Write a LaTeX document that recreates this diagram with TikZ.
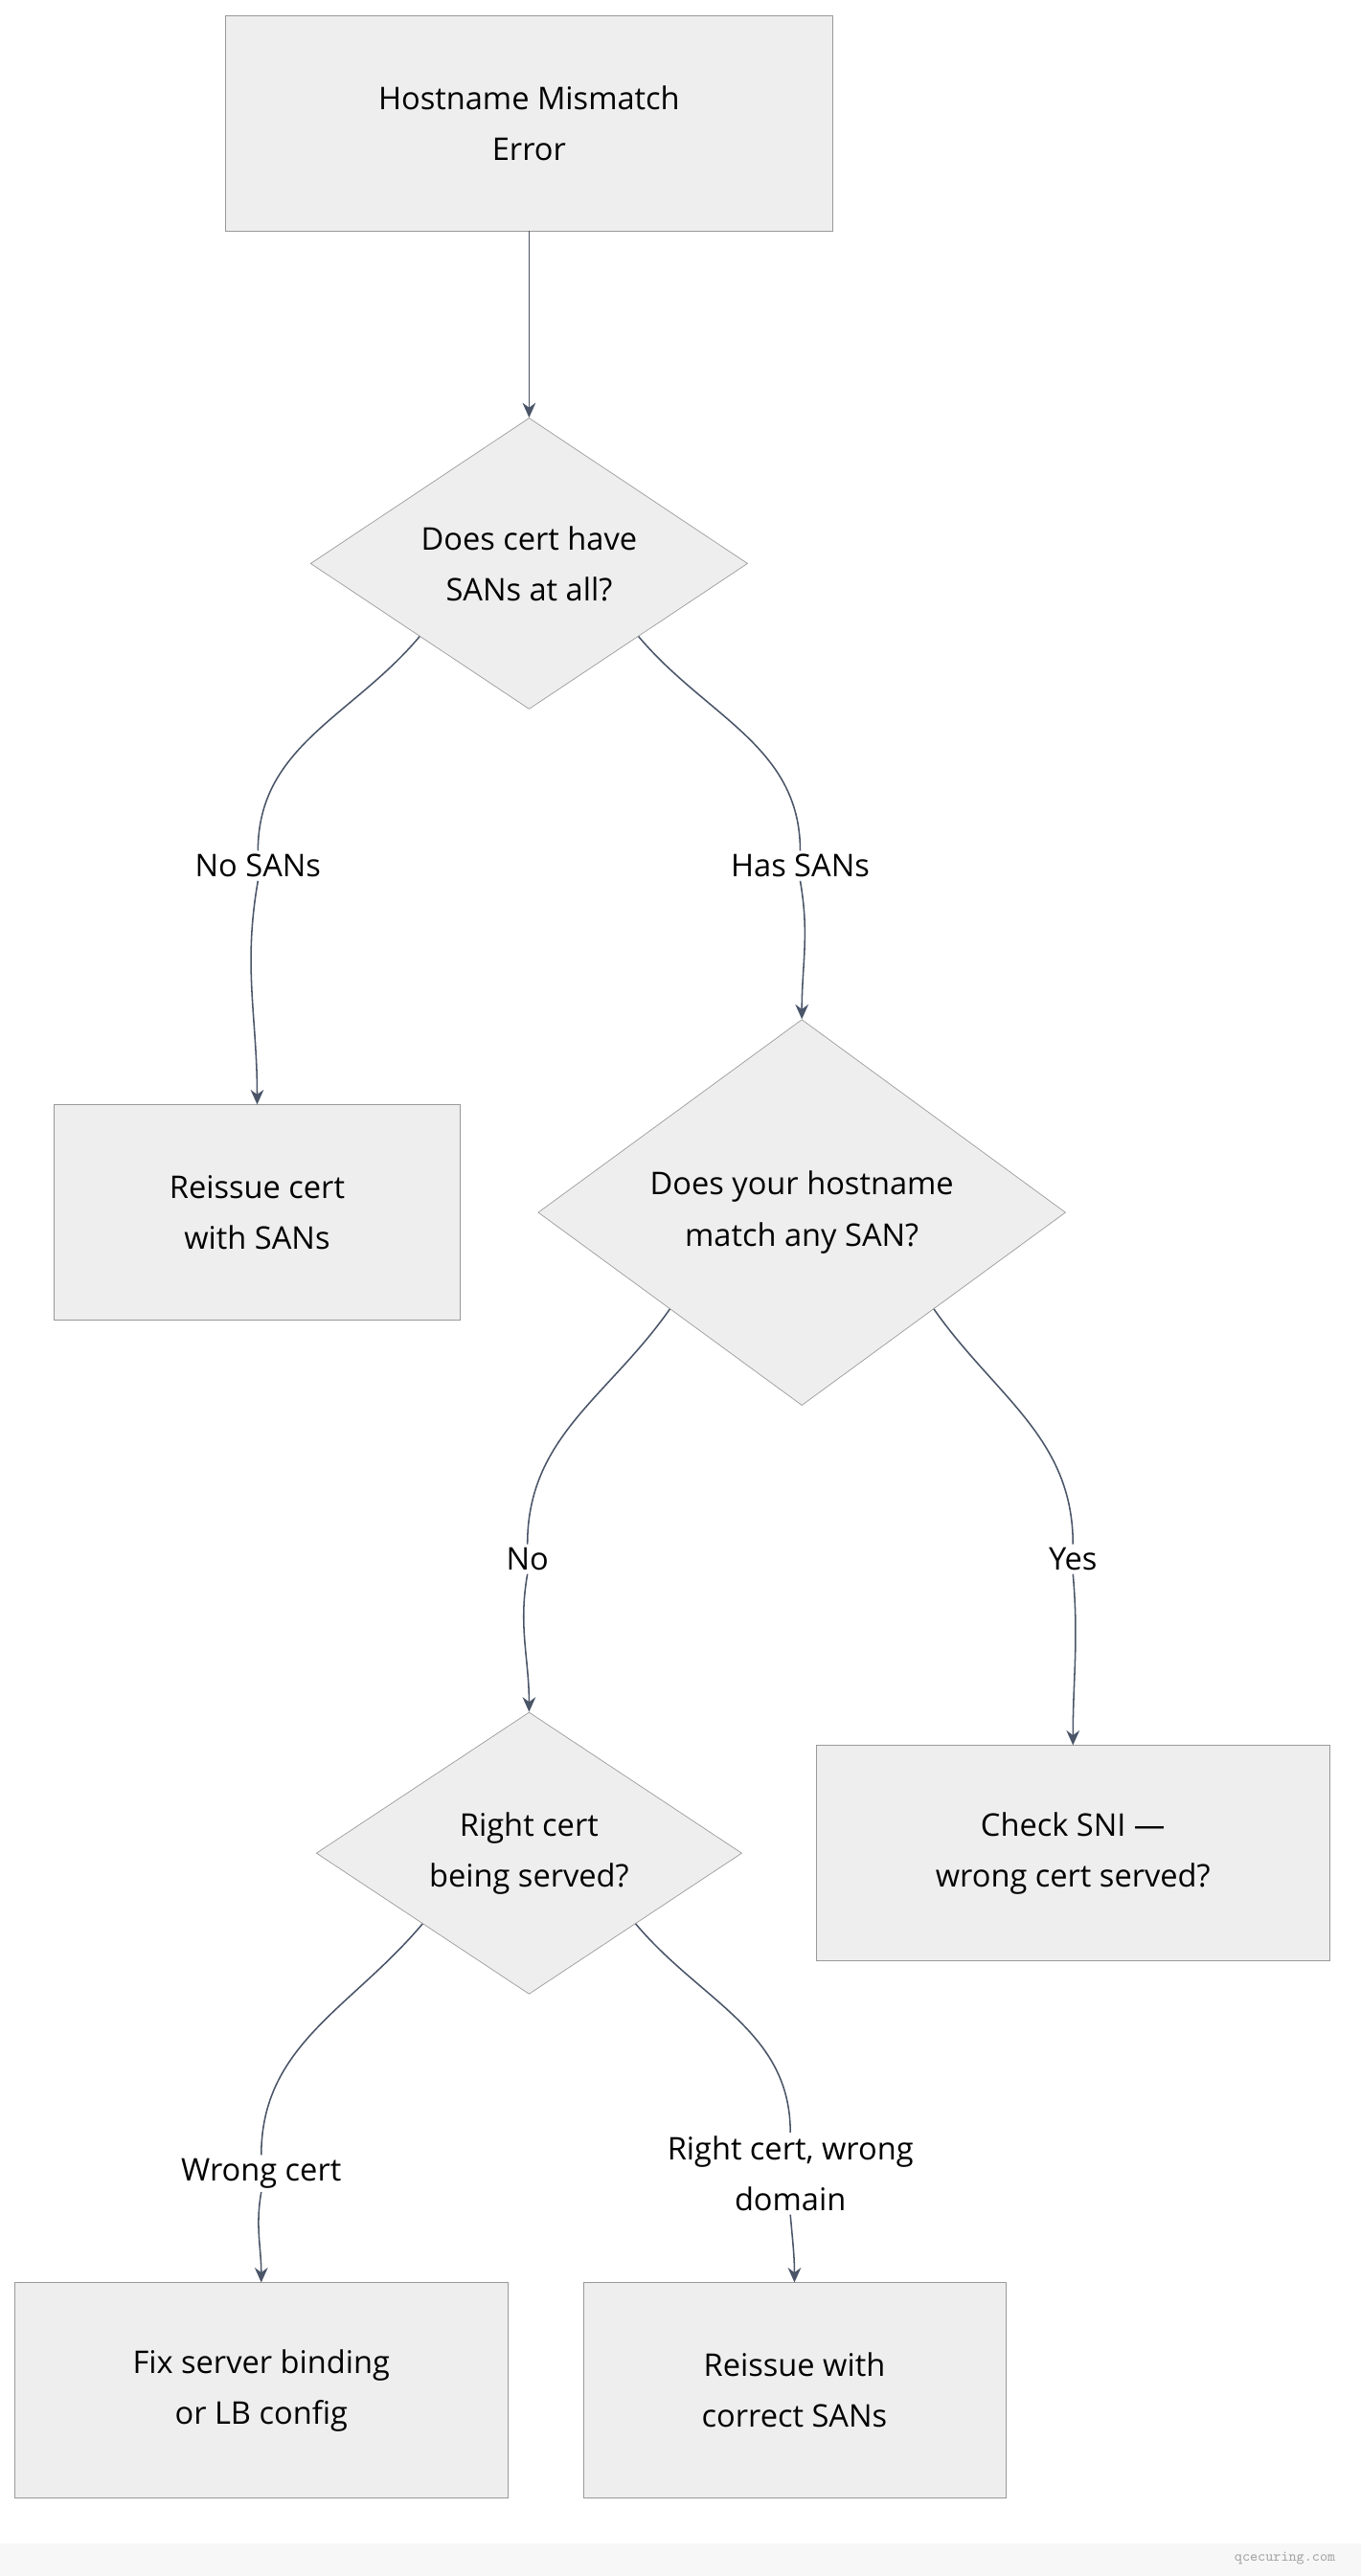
\documentclass[tikz,border=0pt]{standalone}
\usepackage{fontspec}
\setmainfont{Open Sans}
\usetikzlibrary{positioning,shapes.geometric,arrows.meta}
\definecolor{boxfill}{HTML}{EEEEEE}
\definecolor{boxline}{HTML}{999999}
\definecolor{edgecol}{HTML}{4A5568}
\tikzset{
  stepbox/.style={draw=boxline,fill=boxfill,align=center,inner sep=0pt,font=\fontsize{19}{31}\selectfont},
  ask/.style={stepbox,diamond,aspect=1},
  lbl/.style={fill=white,inner sep=2pt,align=center,font=\fontsize{19}{31}\selectfont},
  flow/.style={draw=edgecol,line width=0.9pt,-{Stealth[length=9pt,width=8pt]}},
  link/.style={draw=edgecol,line width=0.9pt}
}
\begin{document}
\begin{tikzpicture}[x=1pt,y=-1pt]
\useasboundingbox (0,0) rectangle (828,1568);
\fill[gray!6] (0,1548) rectangle (828,1568);
\node[font=\ttfamily\fontsize{9}{10}\selectfont,text=gray!70] (mark) at (782,1557) {qcecuring.com};
%the nodes
\node[stepbox,minimum width=370pt,minimum height=131pt] (hostErr) at (322,75) {Hostname Mismatch\\Error};
\node[ask,minimum width=266pt] (hasSans) at (322,343) {Does cert have\\SANs at all?};
\node[stepbox,minimum width=247pt,minimum height=131pt] (reissueSans) at (156.5,738) {Reissue cert\\with SANs};
\node[ask,minimum width=321pt] (matchSan) at (488,738) {Does your hostname\\match any SAN?};
\node[ask,minimum width=259pt] (rightCert) at (322,1128) {Right cert\\being served?};
\node[stepbox,minimum width=312pt,minimum height=131pt] (checkSni) at (653,1128) {Check SNI —\\wrong cert served?};
\node[stepbox,minimum width=300pt,minimum height=131pt] (fixBind) at (159,1455) {Fix server binding\\or LB config};
\node[stepbox,minimum width=257pt,minimum height=131pt] (reissueCorr) at (483.5,1455) {Reissue with\\correct SANs};
%edge labels
\node[lbl] (lNoSans) at (157,527) {No SANs};
\node[lbl] (lHasSans) at (487,527) {Has SANs};
\node[lbl] (lNo) at (321,949) {No};
\node[lbl] (lYes) at (653,949) {Yes};
\node[lbl] (lWrong) at (159,1323) {Wrong cert};
\node[lbl] (lRight) at (481,1323) {Right cert, wrong\\domain};
%drawings of lines
\draw[flow] (hostErr.south) -- (hasSans.north);
\draw[link] (hasSans.south west) to[out=-130,in=90] (lNoSans.north);
\draw[flow] (lNoSans.south) to[out=-100,in=90] (reissueSans.north);
\draw[link] (hasSans.south east) to[out=-50,in=90] (lHasSans.north);
\draw[flow] (lHasSans.south) to[out=-80,in=90] (matchSan.north);
\draw[link] (matchSan.south west) to[out=-125,in=90] (lNo.north);
\draw[flow] (lNo.south) to[out=-100,in=90] (rightCert.north);
\draw[link] (matchSan.south east) to[out=-55,in=90] (lYes.north);
\draw[flow] (lYes.south) to[out=-85,in=90] (checkSni.north);
\draw[link] (rightCert.south west) to[out=-130,in=90] (lWrong.north);
\draw[flow] (lWrong.south) to[out=-100,in=90] (fixBind.north);
\draw[link] (rightCert.south east) to[out=-50,in=90] (lRight.north);
\draw[flow] (lRight.south) to[out=-85,in=90] (reissueCorr.north);
\end{tikzpicture}
\end{document}
